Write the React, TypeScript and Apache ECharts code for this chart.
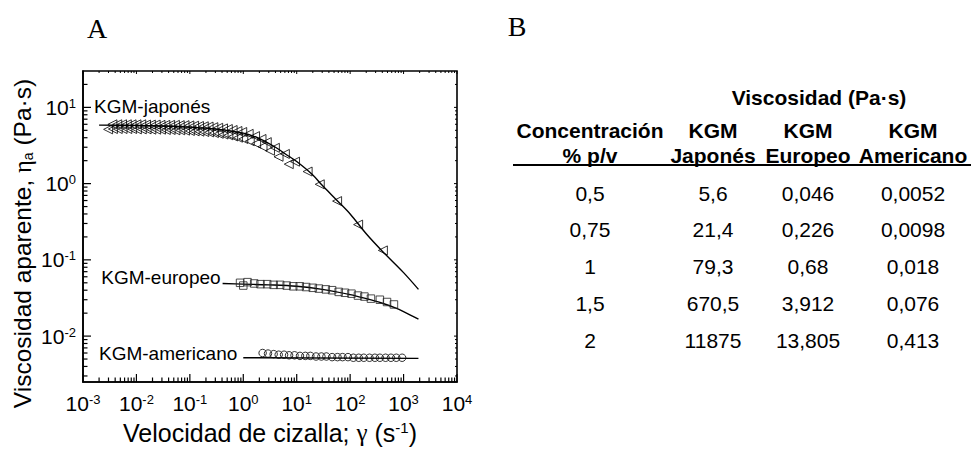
import React, { useEffect, useRef } from "react";
import * as echarts from "echarts";

// ---------- Panel A data ----------
const xDecades = [1e-3, 1e-2, 1e-1, 1, 10, 100, 1000, 10000];
const yDecades = [1e-2, 1e-1, 1, 10];
const minorMultipliers = [2, 3, 4, 5, 6, 7, 8, 9];

// KGM japonés – upper row of triangles
const japonesAX = [0.00355, 0.00437, 0.00537, 0.0066, 0.0081, 0.01, 0.0123, 0.0151, 0.0186, 0.0229, 0.0282, 0.0347, 0.0427, 0.0525, 0.0646, 0.0794, 0.0977, 0.12, 0.148, 0.182, 0.224, 0.275, 0.339, 0.417, 0.513, 0.631, 0.776, 0.955, 1.26, 1.66, 2.19, 2.75, 3.9, 6.0, 9.3, 16, 27, 57, 141, 410];
const japonesAY = [6.0, 6.0, 6.0, 6.0, 6.0, 6.0, 6.0, 5.95, 5.95, 5.95, 5.9, 5.9, 5.9, 5.9, 5.85, 5.85, 5.8, 5.75, 5.7, 5.65, 5.6, 5.5, 5.4, 5.3, 5.2, 5.05, 4.9, 4.75, 4.5, 4.2, 3.85, 3.5, 2.95, 2.45, 1.94, 1.44, 0.98, 0.59, 0.29, 0.133];
// KGM japonés – lower row of triangles
const japonesBX = [0.00295, 0.00363, 0.00447, 0.0055, 0.00676, 0.0083, 0.0102, 0.0126, 0.0155, 0.019, 0.0234, 0.0288, 0.0355, 0.0437, 0.0537, 0.066, 0.0813, 0.1, 0.123, 0.151, 0.186, 0.229, 0.282, 0.347, 0.427, 0.525, 0.646, 0.794, 1.0, 1.32, 1.74, 2.29, 3.16, 4.57, 7.1];
const japonesBY = [5.15, 5.2, 5.2, 5.2, 5.2, 5.2, 5.15, 5.15, 5.15, 5.1, 5.1, 5.1, 5.05, 5.05, 5.0, 5.0, 4.95, 4.9, 4.85, 4.8, 4.75, 4.7, 4.6, 4.5, 4.4, 4.3, 4.15, 4.0, 3.85, 3.6, 3.35, 3.05, 2.7, 2.25, 1.8];
const japonesFitX = [0.002, 0.01, 0.03, 0.1, 0.3, 1, 2, 4, 7, 10, 20, 30, 60, 100, 200, 400, 1000, 1900];
const japonesFitY = [5.85, 5.8, 5.7, 5.5, 5.2, 4.6, 3.9, 3.0, 2.3, 1.95, 1.3, 0.95, 0.58, 0.4, 0.22, 0.13, 0.068, 0.041];

// KGM europeo – squares
const europeoX = [0.87, 1.0, 1.2, 1.6, 2.1, 2.8, 3.7, 4.9, 6.5, 8.6, 11.4, 15, 20, 26, 35, 46, 61, 80, 106, 140, 185, 245, 360, 490, 660];
const europeoY = [0.05, 0.046, 0.051, 0.049, 0.048, 0.048, 0.047, 0.047, 0.046, 0.045, 0.045, 0.044, 0.043, 0.042, 0.041, 0.04, 0.038, 0.037, 0.036, 0.034, 0.033, 0.031, 0.03, 0.028, 0.026];
const europeoFitX = [0.41, 1, 3, 10, 30, 100, 200, 400, 700, 1000, 1900];
const europeoFitY = [0.049, 0.048, 0.047, 0.045, 0.041, 0.035, 0.031, 0.027, 0.0235, 0.021, 0.0167];

// KGM americano – circles
const americanoX = [2.3, 2.9, 3.7, 4.6, 5.8, 7.2, 9.1, 11.5, 14.5, 18, 23, 29, 36, 46, 58, 72, 91, 115, 145, 180, 230, 290, 360, 460, 580, 730, 940];
const americanoY = [0.006, 0.0059, 0.0058, 0.0057, 0.0057, 0.0056, 0.0056, 0.0055, 0.0055, 0.0055, 0.0054, 0.0054, 0.0054, 0.0053, 0.0053, 0.0053, 0.0053, 0.0052, 0.0052, 0.0052, 0.0052, 0.0052, 0.0052, 0.0052, 0.0052, 0.0052, 0.0052];
const americanoFitX = [1.0, 1900];
const americanoFitY = [0.0052, 0.0051];

const seriesLabels = ["KGM-japonés", "KGM-europeo", "KGM-americano"];

// ---------- Panel B data ----------
const tableTitle = "Viscosidad (Pa·s)";
const headerTop = ["Concentración", "KGM", "KGM", "KGM"];
const headerBottom = ["% p/v", "Japonés", "Europeo", "Americano"];
const concentraciones = ["0,5", "0,75", "1", "1,5", "2"];
const japonesVisc = ["5,6", "21,4", "79,3", "670,5", "11875"];
const europeoVisc = ["0,046", "0,226", "0,68", "3,912", "13,805"];
const americanoVisc = ["0,0052", "0,0098", "0,018", "0,076", "0,413"];

const X_MIN = 0.001;
const X_MAX = 10000;
const Y_MIN = 0.0025;
const Y_MAX = 30;

const SANS = '"Liberation Sans", Arial, sans-serif';
const SERIF = '"Liberation Serif", "Times New Roman", serif';

function zip(xs: number[], ys: number[]) {
  return xs.map((x, i) => [x, ys[i]]);
}

function powLabel(v: number) {
  const l = Math.log10(v);
  const e = Math.round(l);
  if (Math.abs(l - e) > 1e-6) return "";
  return "10{sup|" + e + "}";
}

export default function App() {
  const ref = useRef<HTMLDivElement>(null);

  useEffect(() => {
    if (!ref.current) return;
    const chart = echarts.init(ref.current, undefined, { renderer: "svg" });

    const xTicks: number[][] = [];
    xDecades.forEach((d) => {
      xTicks.push([d, Y_MIN, 1]);
      if (d < X_MAX) minorMultipliers.forEach((m) => xTicks.push([d * m, Y_MIN, 0]));
    });
    const yTicks: number[][] = [];
    [1e-3, ...yDecades].forEach((d) => {
      if (d >= Y_MIN) yTicks.push([X_MIN, d, 1]);
      minorMultipliers.forEach((m) => {
        const v = d * m;
        if (v > Y_MIN && v < Y_MAX) yTicks.push([X_MIN, v, 0]);
      });
    });

    const lineStyle = { color: "#000", width: 1.4 };
    const hollow = { color: "rgba(0,0,0,0)", borderColor: "#000", borderWidth: 1 };
    const labelFont = { fontFamily: SANS, fontSize: 19, color: "#000" };

    const fitSeries = (name: string, data: number[][], labelOpt: any) => ({
      type: "line",
      name,
      data: data.map((p, i) =>
        i === 0 ? { value: p, label: { show: true, ...labelFont, ...labelOpt } } : { value: p }
      ),
      symbol: "circle",
      symbolSize: 0,
      showSymbol: true,
      smooth: 0.35,
      lineStyle,
      itemStyle: { color: "#000" },
      label: { show: false },
      z: 2,
    });

    const option: any = {
      animation: false,
      backgroundColor: "#fff",
      grid: {
        left: 83,
        top: 71,
        width: 374,
        height: 316,
        show: true,
        borderColor: "#000",
        borderWidth: 1.6,
        backgroundColor: "rgba(0,0,0,0)",
      },
      xAxis: {
        type: "log",
        logBase: 10,
        min: X_MIN,
        max: X_MAX,
        splitNumber: 7,
        axisLine: { show: true, lineStyle: { color: "#000", width: 1.6 } },
        axisTick: { show: false },
        splitLine: { show: false },
        minorTick: { show: false },
        axisLabel: {
          formatter: powLabel,
          color: "#000",
          fontFamily: SANS,
          fontSize: 21,
          margin: 11,
          showMinLabel: true,
          showMaxLabel: true,
          hideOverlap: false,
          rich: { sup: { fontFamily: SANS, fontSize: 13, verticalAlign: "top", color: "#000" } },
        },
        name: "Velocidad de cizalla; {g|γ} (s{sup|-1})",
        nameLocation: "middle",
        nameGap: 38,
        nameTextStyle: {
          color: "#000",
          fontFamily: SANS,
          fontSize: 25,
          rich: {
            sup: { fontFamily: SANS, fontSize: 15, verticalAlign: "top", color: "#000" },
            g: { fontFamily: SERIF, fontSize: 25, color: "#000" },
          },
        },
      },
      yAxis: {
        type: "log",
        logBase: 10,
        min: Y_MIN,
        max: Y_MAX,
        splitNumber: 4,
        axisLine: { show: true, lineStyle: { color: "#000", width: 1.6 } },
        axisTick: { show: false },
        splitLine: { show: false },
        minorTick: { show: false },
        axisLabel: {
          formatter: powLabel,
          color: "#000",
          fontFamily: SANS,
          fontSize: 21,
          margin: 7,
          showMinLabel: true,
          showMaxLabel: true,
          rich: { sup: { fontFamily: SANS, fontSize: 13, verticalAlign: "top", color: "#000" } },
        },
        name: "Viscosidad aparente, {g|η}{sub|a} (Pa·s)",
        nameLocation: "middle",
        nameRotate: 90,
        nameGap: 48,
        nameTextStyle: {
          color: "#000",
          fontFamily: SANS,
          fontSize: 24.5,
          padding: [0, 34, 0, 0],
          rich: {
            sub: { fontFamily: SANS, fontSize: 14, verticalAlign: "bottom", color: "#000" },
            g: { fontFamily: SERIF, fontSize: 24.5, color: "#000" },
          },
        },
      },
      series: [
        {
          type: "custom",
          coordinateSystem: "cartesian2d",
          silent: true,
          clip: false,
          z: 5,
          data: xTicks,
          renderItem: (_p: any, api: any) => {
            const v = api.value(0);
            const major = api.value(2) === 1;
            const b = api.coord([v, Y_MIN]);
            const t = api.coord([v, Y_MAX]);
            const L = major ? 8 : 4.5;
            const l = major ? 3 : 2;
            return {
              type: "group",
              children: [
                { type: "line", shape: { x1: b[0], y1: b[1], x2: b[0], y2: b[1] - L }, style: { stroke: "#000", lineWidth: 1.2 } },
                { type: "line", shape: { x1: t[0], y1: t[1], x2: t[0], y2: t[1] + l }, style: { stroke: "#000", lineWidth: 1 } },
              ],
            };
          },
        },
        {
          type: "custom",
          coordinateSystem: "cartesian2d",
          silent: true,
          clip: false,
          z: 5,
          data: yTicks,
          renderItem: (_p: any, api: any) => {
            const v = api.value(1);
            const major = api.value(2) === 1;
            const a = api.coord([X_MIN, v]);
            const r = api.coord([X_MAX, v]);
            const L = major ? 8 : 4.5;
            const l = major ? 3 : 2;
            return {
              type: "group",
              children: [
                { type: "line", shape: { x1: a[0], y1: a[1], x2: a[0] + L, y2: a[1] }, style: { stroke: "#000", lineWidth: 1.2 } },
                { type: "line", shape: { x1: r[0], y1: r[1], x2: r[0] - l, y2: r[1] }, style: { stroke: "#000", lineWidth: 1 } },
              ],
            };
          },
        },
        fitSeries("fit-japones", zip(japonesFitX, japonesFitY), {
          formatter: seriesLabels[0],
          position: [-5, -19],
          align: "left",
          verticalAlign: "middle",
        }),
        fitSeries("fit-europeo", zip(europeoFitX, europeoFitY), {
          formatter: seriesLabels[1],
          position: [-2, -6],
          align: "right",
          verticalAlign: "middle",
        }),
        fitSeries("fit-americano", zip(americanoFitX, americanoFitY), {
          formatter: seriesLabels[2],
          position: [-6, -4],
          align: "right",
          verticalAlign: "middle",
        }),
        {
          type: "scatter",
          name: "KGM japonés",
          data: zip(japonesAX, japonesAY),
          symbol: "triangle",
          symbolRotate: 90,
          symbolSize: 9,
          itemStyle: hollow,
          z: 3,
        },
        {
          type: "scatter",
          name: "KGM japonés (2)",
          data: zip(japonesBX, japonesBY),
          symbol: "triangle",
          symbolRotate: 90,
          symbolSize: 9,
          itemStyle: hollow,
          z: 3,
        },
        {
          type: "scatter",
          name: "KGM europeo",
          data: zip(europeoX, europeoY),
          symbol: "rect",
          symbolSize: 7.5,
          itemStyle: { ...hollow, borderColor: "#222" },
          z: 3,
        },
        {
          type: "scatter",
          name: "KGM americano",
          data: zip(americanoX, americanoY),
          symbol: "circle",
          symbolSize: 7.5,
          itemStyle: hollow,
          z: 3,
        },
      ],
      graphic: buildGraphic(),
    };

    chart.setOption(option);
    return () => chart.dispose();
  }, []);

  return (
    <div
      ref={ref}
      style={{ position: "fixed", left: 0, top: 0, width: 971, height: 450, background: "#fff" }}
    />
  );
}

function buildGraphic() {
  const colX = [590, 713, 808, 913];
  const bold = `bold 21px ${SANS}`;
  const normal = `21px ${SANS}`;
  const els: any[] = [
    { type: "text", x: 97, y: 28, style: { text: "A", font: `28px ${SERIF}`, align: "center", verticalAlign: "middle", fill: "#000" } },
    { type: "text", x: 517, y: 26, style: { text: "B", font: `28px ${SERIF}`, align: "center", verticalAlign: "middle", fill: "#000" } },
    { type: "text", x: 819, y: 97, style: { text: tableTitle, font: bold, align: "center", verticalAlign: "middle", fill: "#000" } },
    { type: "line", shape: { x1: 513, y1: 165, x2: 971, y2: 165 }, style: { stroke: "#000", lineWidth: 2 } },
  ];
  headerTop.forEach((t, i) =>
    els.push({ type: "text", x: colX[i], y: 130, style: { text: t, font: bold, align: "center", verticalAlign: "middle", fill: "#000" } })
  );
  headerBottom.forEach((t, i) =>
    els.push({ type: "text", x: colX[i], y: 155, style: { text: t, font: bold, align: "center", verticalAlign: "middle", fill: "#000" } })
  );
  const cols = [concentraciones, japonesVisc, europeoVisc, americanoVisc];
  concentraciones.forEach((_c, r) => {
    cols.forEach((col, ci) =>
      els.push({
        type: "text",
        x: colX[ci],
        y: 193 + r * 36.8,
        style: { text: col[r], font: normal, align: "center", verticalAlign: "middle", fill: "#000" },
      })
    );
  });
  return els;
}
